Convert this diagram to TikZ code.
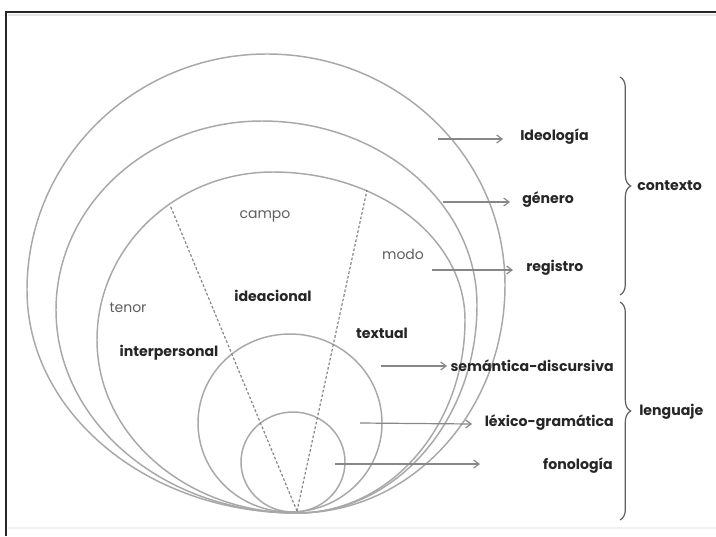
\documentclass[tikz,border=0pt]{standalone}
\usepackage{fontspec}
\setmainfont{Poppins}
\usetikzlibrary{decorations.pathreplacing,arrows.meta}
\definecolor{lc}{RGB}{168,168,168}
\definecolor{ac}{RGB}{135,135,135}
\definecolor{tc}{RGB}{38,38,38}
\definecolor{lt}{RGB}{95,95,95}
\newcommand\gellipse[8]{%
 \draw[circ] (#1,#2) .. controls ({#1+0.5523*(#3-#1)},#2) and (#3,{#4-0.5523*(#4-#2)}) .. (#3,#4)
 .. controls (#3,{#4+0.5523*(#6-#4)}) and ({#5+0.5523*(#3-#5)},#6) .. (#5,#6)
 .. controls ({#5-0.5523*(#5-#7)},#6) and (#7,{#8+0.5523*(#6-#8)}) .. (#7,#8)
 .. controls (#7,{#8-0.5523*(#8-#2)}) and ({#1-0.5523*(#1-#7)},#2) .. cycle;}
\begin{document}
\begin{tikzpicture}[x=0.75pt,y=-0.75pt,
  circ/.style={draw=lc,line width=1.1pt},
  arr/.style={draw=ac,line width=0.9pt,-{Straight Barb[length=4pt,width=6pt]}},
  dsh/.style={draw=ac,line width=0.9pt,dash pattern=on 2pt off 1.5pt},
  brc/.style={draw=lt,line width=0.9pt,decorate,decoration={brace,amplitude=8pt}},
  bl/.style={text=tc,font=\fontsize{10.6}{12}\selectfont\bfseries,inner sep=0pt},
  ll/.style={text=lt,font=\fontsize{10.5}{12}\selectfont,inner sep=0pt}]
\useasboundingbox (0,0) rectangle (716,536);
\fill[white] (0,0) rectangle (716,536);
% frame
\draw[gray!20,line width=2pt] (8,15) -- (716,15);
\draw[gray!12,line width=2pt] (8,528) -- (716,528);
\draw[black!85,line width=1.4pt] (6,536) -- (6,12) -- (716,12);
% outer shapes
\gellipse{267}{54}{505}{285}{297}{513}{27}{290}
\gellipse{262}{121}{477}{305}{297}{513}{56}{310}
\gellipse{273}{172}{465}{320}{297}{513}{97}{340}
% inner circles
\draw[circ] (290,423) ellipse [x radius=92, y radius=89];
\draw[circ] (293,462) ellipse [x radius=52, y radius=50];
% dashed lines
\coordinate (p0) at (297,511);
\coordinate (pl) at (170,205);
\coordinate (pr) at (367,190);
\draw[dsh] (p0) -- (pl);
\draw[dsh] (p0) -- (pr);
% labels inside
\node[ll] (campo) at (265,216) {campo};
\node[ll] (modo) at (403,254) {modo};
\node[ll] (tenor) at (128,308) {tenor};
\node[bl] (ideacional) at (273,296) {ideacional};
\node[bl] (interpersonal) at (169,353) {interpersonal};
\node[bl] (textual) at (382,333) {textual};
% right labels
\node[bl,anchor=west] (ideologia) at (520,137) {Ideología};
\node[bl,anchor=west] (genero) at (522,200) {género};
\node[bl,anchor=west] (registro) at (526,268) {registro};
\node[bl,anchor=east] (semantica) at (614,366) {semántica-discursiva};
\node[bl,anchor=east] (lexico) at (614,423) {léxico-gramática};
\node[bl,anchor=east] (fonologia) at (613,466) {fonología};
\node[bl,anchor=west] (contexto) at (637,186) {contexto};
\node[bl,anchor=west] (lenguaje) at (639,412) {lenguaje};
% arrows
\coordinate (a1) at (438,139); \coordinate (b1) at (503,139);
\coordinate (a2) at (443,202); \coordinate (b2) at (510,202);
\coordinate (a3) at (432,270); \coordinate (b3) at (513,270);
\coordinate (a4) at (381,366); \coordinate (b4) at (447,366);
\coordinate (a5) at (360,423); \coordinate (b5) at (472,424);
\coordinate (a6) at (335,464); \coordinate (b6) at (480,464);
\draw[arr] (a1) -- (b1);
\draw[arr] (a2) -- (b2);
\draw[arr] (a3) -- (b3);
\draw[arr] (a4) -- (b4);
\draw[arr] (a5) -- (b5);
\draw[arr] (a6) -- (b6);
% braces
\coordinate (c1) at (620,77); \coordinate (c2) at (620,295);
\coordinate (c3) at (620,302); \coordinate (c4) at (620,520);
\draw[brc] (c1) -- (c2);
\draw[brc] (c3) -- (c4);
\end{tikzpicture}
\end{document}
